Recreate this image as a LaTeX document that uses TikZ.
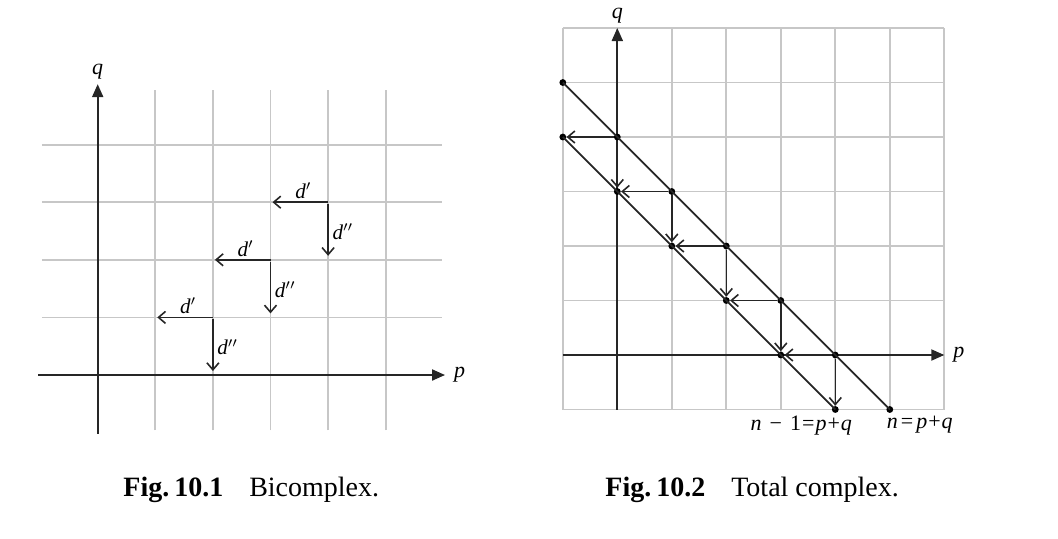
\documentclass[tikz,border=0pt]{standalone}
\usepackage{fontspec}
\setmainfont{Liberation Serif}
\usetikzlibrary{arrows.meta,positioning}

\begin{document}
\begin{tikzpicture}[x=0.5pt,y=0.5pt,
    gridline/.style={draw=black!22,line width=0.9pt},
    axis/.style={draw=black!85,line width=1pt,-{Triangle[length=6.5pt,width=5.5pt]}},
    diff/.style={draw=black!85,line width=0.8pt,-{Straight Barb[length=3.5pt,width=6pt]}},
    diag/.style={draw=black!85,line width=0.9pt},
    dot/.style={circle,fill=black,inner sep=0pt,minimum size=3.4pt},
    lbl/.style={font=\fontsize{10.5}{12}\selectfont\itshape},
    axlbl/.style={font=\fontsize{11}{12}\selectfont\itshape},
    sumlbl/.style={font=\fontsize{11}{12}\selectfont},
    figcap/.style={font=\fontsize{14}{16}\selectfont,anchor=base west,inner sep=0pt}]
  \useasboundingbox (0,0) rectangle (1058,538);

  \begin{scope}[shift={(48.85pt,81.5pt)},x=28.8pt,y=28.8pt]
    \foreach \i in {1,...,5} \draw[gridline] (\i,-0.96) -- (\i,4.95);
    \foreach \j in {1,...,4} \draw[gridline] (-0.97,\j) -- (5.97,\j);
    \coordinate (pbeg) at (-1.03,0);
    \coordinate (pend) at (6.03,0);
    \coordinate (qbeg) at (0,-1.02);
    \coordinate (qend) at (0,5.05);
    \draw[axis] (pbeg) -- (pend);
    \draw[axis] (qbeg) -- (qend);
    \node[axlbl,right=1pt of pend] (plab) {p};
    \node[axlbl,above=-1pt of qend] (qlab) {q};
    \foreach \a/\b in {2/1,3/2,4/3}{
      \coordinate (s\a) at (\a,\b);
      \coordinate (h\a) at (\b,\b);
      \coordinate (v\a) at (\a,\b-1);
      \draw[diff,shorten >=1pt] (s\a) -- node[lbl,above=-2pt,xshift=2pt] {d$'$} (h\a);
      \draw[diff,shorten >=2pt] ([yshift=-1pt]s\a) -- node[lbl,right=-1.5pt] {d$''$} (v\a);
    }
  \end{scope}

  \begin{scope}[shift={(308.65pt,91.5pt)},x=27.25pt,y=27.25pt]
    \foreach \i in {-1,...,6}{
      \draw[gridline] (\i,-1) -- (\i,6);
      \draw[gridline] (-1,\i) -- (6,\i);
    }
    \coordinate (pbeg2) at (-1,0);
    \coordinate (pend2) at (6,0);
    \coordinate (qbeg2) at (0,-1);
    \coordinate (qend2) at (0,6);
    \draw[axis] (pbeg2) -- (pend2);
    \draw[axis] (qbeg2) -- (qend2);
    \node[axlbl,right=1pt of pend2] (plab2) {p};
    \node[axlbl,above=-1pt of qend2] (qlab2) {q};
    \foreach \k in {0,...,6} \node[dot] (u\k) at (\k-1,5-\k) {};
    \foreach \k in {0,...,5} \node[dot] (l\k) at (\k-1,4-\k) {};
    \draw[diag] (u0.center) -- (u6.center);
    \draw[diag] (l0.center) -- (l5.center);
    \foreach \k/\m in {1/0,2/1,3/2,4/3,5/4}{
      \draw[diff] (u\k) -- (l\m);
      \draw[diff] (u\k) -- (l\k);
    }
    \node[sumlbl,below=-2pt of l5,xshift=-17pt] (nm1)
      {\textit{n}\hspace{4pt}−\hspace{4pt}1\hspace{0.5pt}=\hspace{0.5pt}\textit{p}\hspace{0.5pt}+\hspace{0.5pt}\textit{q}};
    \node[sumlbl,below=-2pt of u6,xshift=15pt] (nn)
      {\textit{n}\hspace{1.5pt}=\hspace{1.5pt}\textit{p}\hspace{0.5pt}+\hspace{0.5pt}\textit{q}};
  \end{scope}

  \node[figcap] (cap1) at (123,42) {\textbf{Fig.\hspace{2.5pt}10.1}\hspace{13pt}Bicomplex.};
  \node[figcap] (cap2) at (605,42) {\textbf{Fig.\hspace{2.5pt}10.2}\hspace{13pt}Total complex.};
\end{tikzpicture}
\end{document}
